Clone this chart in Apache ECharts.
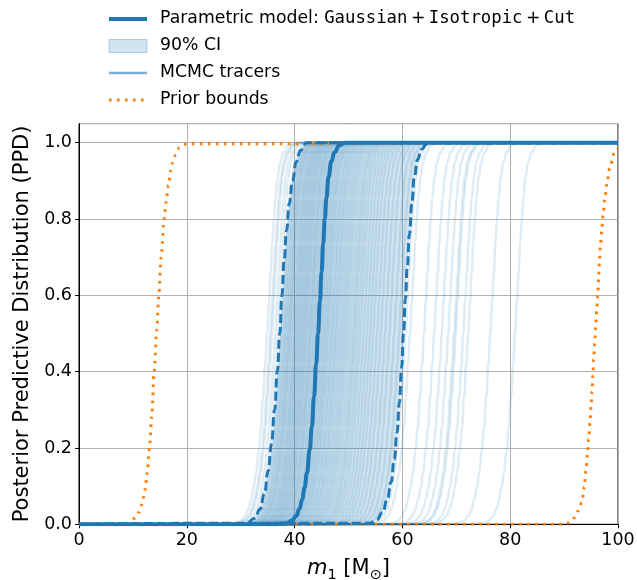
<!DOCTYPE html>
<html>
<head>
<meta charset="utf-8">
<script src="https://cdn.jsdelivr.net/npm/echarts@6/dist/echarts.min.js"></script>
<style>html,body{margin:0;padding:0;background:#fff}#c{width:637px;height:580px}</style>
</head>
<body>
<div id="c"></div>
<script>
// ---- data ----
const xTicks = [0, 20, 40, 60, 80, 100];
const yTicks = [0.0, 0.2, 0.4, 0.6, 0.8, 1.0];

// median PPD (solid)
const medianX = [0, 36, 38.5, 39.5, 40.3, 40.9, 41.4, 41.85, 42.3, 42.8, 43.2, 43.6, 44.0, 44.35, 44.7, 45.0, 45.3, 45.6, 45.9, 46.3, 46.8, 47.4, 48.3, 49.3, 100];
const medianY = [0, 0, 0.003, 0.01, 0.022, 0.04, 0.065, 0.096, 0.135, 0.195, 0.255, 0.335, 0.42, 0.5, 0.585, 0.66, 0.735, 0.8, 0.855, 0.91, 0.95, 0.975, 0.993, 1, 1];

// 90% CI bounds (dashed)
const ciUpperX = [0, 31.1, 32.6, 33.6, 34.4, 35.1, 35.7, 36.3, 36.8, 37.25, 37.65, 38.05, 38.5, 39.0, 39.6, 40.3, 41.1, 42.2, 100];
const ciUpperY = [0, 0.003, 0.016, 0.04, 0.08, 0.14, 0.21, 0.3, 0.4, 0.5, 0.6, 0.69, 0.77, 0.84, 0.9, 0.95, 0.98, 1.0, 1.0];
const ciLowerX = [0, 54.0, 55.2, 56.3, 57.2, 57.9, 58.5, 59.0, 59.45, 59.85, 60.2, 60.55, 60.9, 61.3, 61.75, 62.2, 62.8, 63.5, 64.5, 65.5, 100];
const ciLowerY = [0, 0.003, 0.011, 0.03, 0.065, 0.11, 0.17, 0.24, 0.32, 0.41, 0.5, 0.59, 0.675, 0.76, 0.84, 0.91, 0.955, 0.982, 0.996, 1, 1];

// prior bounds (dotted)
const priorLowX = [0, 9.0, 10.35, 11.15, 11.65, 11.96, 12.27, 12.64, 13.07, 13.5, 13.94, 14.44, 14.8, 15.24, 15.8, 16.17, 16.6, 17.04, 17.4, 17.9, 18.65, 20.0, 100];
const priorLowY = [0, 0, 0.016, 0.032, 0.052, 0.071, 0.092, 0.134, 0.2, 0.282, 0.4, 0.51, 0.6, 0.7, 0.8, 0.845, 0.888, 0.928, 0.948, 0.968, 0.987, 0.997, 1];
const priorHighX = [0, 89.5, 90.9, 92.0, 92.6, 93.3, 93.75, 94.06, 94.31, 94.56, 94.8, 94.99, 95.18, 95.36, 95.49, 95.67, 95.86, 96.04, 96.23, 96.41, 96.53, 96.72, 96.97, 97.22, 97.53, 97.96, 98.45, 99.33, 100];
const priorHighY = [0, 0, 0.004, 0.018, 0.035, 0.057, 0.098, 0.140, 0.182, 0.223, 0.265, 0.307, 0.348, 0.390, 0.432, 0.474, 0.516, 0.558, 0.599, 0.642, 0.684, 0.726, 0.768, 0.809, 0.851, 0.893, 0.933, 0.974, 0.985];

const tracerShapeDx = [-8.3, -5.85, -4.85, -4.05, -3.45, -2.95, -2.5, -2.05, -1.55, -1.15, -0.75, -0.35, 0, 0.35, 0.65, 0.95, 1.25, 1.55, 1.95, 2.45, 3.05, 3.95, 4.95];
const tracerShapeY  = [0, 0.003, 0.01, 0.022, 0.04, 0.065, 0.096, 0.135, 0.195, 0.255, 0.335, 0.42, 0.5, 0.585, 0.66, 0.735, 0.8, 0.855, 0.91, 0.95, 0.975, 0.993, 1];
const tracerMids = [34.9, 35.5, 35.8, 36.4, 36.9,
  37.6, 38.0, 38.3, 38.6, 38.9, 39.1, 39.4, 39.7, 40.0, 40.2, 40.5, 40.7, 41.0, 41.2, 41.5, 41.7,
  42.0, 42.2, 42.5, 42.8, 43.0, 43.3, 43.6, 43.9, 44.2, 44.6, 44.9, 45.2, 45.5, 45.8, 46.1, 46.4,
  46.8, 47.1, 47.5, 47.8, 48.2, 48.6, 49.0, 49.4, 49.8, 50.3, 50.8, 51.2, 51.7, 52.2, 52.8, 53.4,
  54.0, 54.6, 55.3, 56.0, 56.8, 57.6, 58.5, 59.4, 60.6, 61.4,
  64.0, 65.9, 67.3, 68.5, 69.6, 69.9, 71.3, 72.2, 76.3, 80.9];

// ---- chart ----
const FONT = 'DejaVu Sans';
const C0 = '#1f77b4', C1 = '#ff7f0e';
const MODEL = 'Parametric model: Gaussian+Isotropic+Cut';
const CI = '90% CI', TR = 'MCMC tracers', PR = 'Prior bounds';
const zip = (xs, ys) => xs.map((x, i) => [x, ys[i]]);
const NOSYM = { color: 'rgba(0,0,0,0)', borderColor: 'rgba(0,0,0,0)', borderWidth: 0 };

const series = [];
series.push({ name: MODEL, type: 'line', data: zip(medianX, medianY), symbol: 'none', smooth: 0.5, smoothMonotone: 'x',
  itemStyle: { color: C0 }, lineStyle: { color: C0, width: 4 }, z: 6, silent: true });
series.push({ name: MODEL, type: 'line', data: zip(ciUpperX, ciUpperY), symbol: 'none', smooth: 0.5, smoothMonotone: 'x',
  itemStyle: { color: C0 }, lineStyle: { color: C0, width: 3, type: [9, 4] }, z: 5, silent: true });
series.push({ name: MODEL, type: 'line', data: zip(ciLowerX, ciLowerY), symbol: 'none', smooth: 0.5, smoothMonotone: 'x',
  itemStyle: { color: C0 }, lineStyle: { color: C0, width: 3, type: [9, 4] }, z: 5, silent: true });
series.push({ name: CI, type: 'custom', data: [[0, 0]], z: 1, silent: true,
  itemStyle: { color: 'rgba(31,119,180,0.2)', borderColor: 'rgba(31,119,180,0.3)', borderWidth: 1 },
  renderItem: function (params, api) {
    const pts = [];
    for (let i = 0; i < ciUpperX.length; i++) pts.push(api.coord([ciUpperX[i], ciUpperY[i]]));
    for (let i = ciLowerX.length - 1; i >= 0; i--) pts.push(api.coord([ciLowerX[i], ciLowerY[i]]));
    return { type: 'polygon', shape: { points: pts }, style: { fill: 'rgba(31,119,180,0.2)' } };
  } });
series.push({ name: TR, type: 'line', data: [], symbol: 'none', itemStyle: { color: C0 },
  lineStyle: { color: 'rgba(31,119,180,0.6)', width: 2.5 } });
tracerMids.forEach(m => {
  const d = [[0, 0]];
  tracerShapeDx.forEach((dx, i) => d.push([m + dx, tracerShapeY[i]]));
  d.push([100, 1]);
  series.push({ name: TR, type: 'line', data: d, symbol: 'none', smooth: 0.5, smoothMonotone: 'x',
    itemStyle: { color: C0 }, lineStyle: { color: 'rgba(31,119,180,0.14)', width: 2.5 }, z: 2, silent: true });
});
series.push({ name: PR, type: 'line', data: zip(priorLowX, priorLowY), symbol: 'none', smooth: 0.3, smoothMonotone: 'x',
  itemStyle: { color: C1 }, lineStyle: { color: C1, width: 3, type: [2.6, 5.4], cap: 'butt' }, z: 3, silent: true });
series.push({ name: PR, type: 'line', data: zip(priorHighX, priorHighY), symbol: 'none', smooth: 0.3, smoothMonotone: 'x',
  itemStyle: { color: C1 }, lineStyle: { color: C1, width: 3, type: [2.6, 5.4], cap: 'butt' }, z: 3, silent: true });

const chart = echarts.init(document.getElementById('c'), null, { renderer: 'canvas' });
chart.setOption({
  animation: false,
  backgroundColor: '#fff',
  grid: { left: 79, right: 19, top: 123.6, bottom: 55.7, show: true, borderColor: '#000', borderWidth: 1,
    backgroundColor: 'transparent', containLabel: false, outerBoundsMode: 'none' },
  legend: {
    orient: 'vertical', left: 107, top: 10, padding: 0,
    itemWidth: 38, itemHeight: 13, itemGap: 9,
    selectedMode: false,
    textStyle: { fontFamily: FONT, fontSize: 17.3, color: '#000', lineHeight: 18, padding: [0, 0, 0, 8],
      rich: {
        n: { fontFamily: FONT, fontSize: 17.3, lineHeight: 18, color: '#000' },
        m: { fontFamily: 'DejaVu Sans Mono', fontSize: 17.3, lineHeight: 18, color: '#000' }
      } },
    formatter: function (name) {
      if (name === MODEL) return '{n|Parametric model: }{m|Gaussian}{n|\u2009+\u2009}{m|Isotropic}{n|\u2009+\u2009}{m|Cut}';
      return name;
    },
    data: [
      { name: MODEL, itemStyle: NOSYM, lineStyle: { color: C0, width: 4, type: 'solid' } },
      { name: CI, icon: 'rect', itemStyle: { color: 'rgba(31,119,180,0.2)', borderColor: 'rgba(31,119,180,0.3)', borderWidth: 1 } },
      { name: TR, itemStyle: NOSYM, lineStyle: { color: 'rgba(31,119,180,0.6)', width: 2.5, type: 'solid' } },
      { name: PR, itemStyle: NOSYM, lineStyle: { color: C1, width: 3, type: [2.6, 5.4], cap: 'butt' } }
    ]
  },
  xAxis: {
    type: 'value', min: 0, max: 100, interval: 20,
    name: '{i|m}{s|1}{t| [M}{s|\u2299}{t|]}', nameLocation: 'middle', nameGap: 30,
    nameTextStyle: { rich: {
      i: { fontFamily: FONT, fontStyle: 'italic', fontSize: 21, color: '#000', lineHeight: 28, verticalAlign: 'middle' },
      t: { fontFamily: FONT, fontSize: 21, color: '#000', lineHeight: 28, verticalAlign: 'middle' },
      s: { fontFamily: FONT, fontSize: 14.5, color: '#000', lineHeight: 14, verticalAlign: 'bottom' }
    } },
    axisLine: { show: true, lineStyle: { color: '#000', width: 1 } },
    axisTick: { show: true, length: 4, lineStyle: { color: '#000', width: 1 } },
    axisLabel: { fontFamily: FONT, fontSize: 17.5, color: '#000', margin: 7 },
    splitLine: { show: true, lineStyle: { color: '#b0b0b0', width: 1 } }
  },
  yAxis: {
    type: 'value', min: 0, max: 1.05, interval: 0.2,
    name: 'Posterior Predictive Distribution (PPD)', nameLocation: 'middle', nameGap: 39,
    nameTextStyle: { fontFamily: FONT, fontSize: 21, color: '#000' },
    axisLine: { show: true, lineStyle: { color: '#000', width: 1 } },
    axisTick: { show: true, length: 4, lineStyle: { color: '#000', width: 1 } },
    axisLabel: { fontFamily: FONT, fontSize: 17.5, color: '#000', margin: 7, showMaxLabel: false,
      formatter: v => (yTicks.some(t => Math.abs(t - v) < 1e-9) ? v.toFixed(1) : '') },
    splitLine: { show: true, lineStyle: { color: '#b0b0b0', width: 1 } }
  },
  series: series
});
</script>
</body>
</html>
